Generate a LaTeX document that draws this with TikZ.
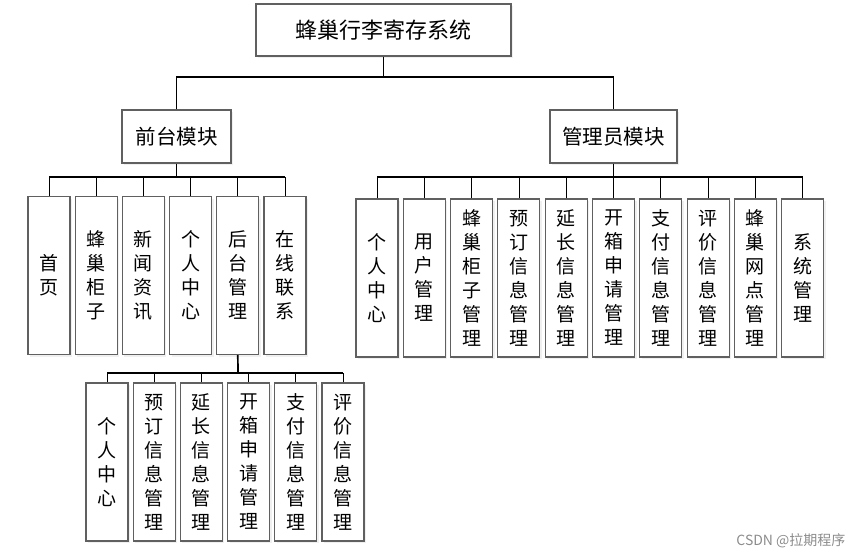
\documentclass[tikz,border=0pt]{standalone}
\usepackage{fontspec}
\newfontfamily\cjk{Noto Sans CJK SC}
\usetikzlibrary{shadows}

\begin{document}
\begin{tikzpicture}[x=1pt, y=-1pt,
    box/.style={draw=gray!75!black, line width=1.1pt, fill=white, inner sep=0pt, align=center,
        drop shadow={opacity=0.12, shadow xshift=2pt, shadow yshift=-2pt}},
    leaf/.style={box, minimum width=42pt, minimum height=158pt, font={\cjk\fontsize{19}{24}\selectfont}},
    conn/.style={line width=1.7pt},
    bar/.style={line width=1.1pt},
    twig/.style={line width=0.8pt}]
    \useasboundingbox (0,0) rectangle (864,558);

    % Raiz y modulos
    \node[box, minimum width=255pt, minimum height=52pt, font={\cjk\fontsize{22}{22}\selectfont}] (root) at (383.5,30) {蜂巢行李寄存系统};
    \node[box, minimum width=109pt, minimum height=53pt, font={\cjk\fontsize{20.5}{20.5}\selectfont}] (front) at (176.5,136.5) {前台模块};
    \node[box, minimum width=127pt, minimum height=53pt, font={\cjk\fontsize{20.5}{20.5}\selectfont}] (admin) at (613.5,136.5) {管理员模块};

    \coordinate (rootbar) at (383.5,77);
    \draw[conn] (root.south) -- (rootbar);
    \draw[conn] (front.north) |- (rootbar) -| (admin.north);

    % Hijos del modulo de front
    \foreach \txt [count=\i] in {首\\页, 蜂\\巢\\柜\\子, 新\\闻\\资\\讯, 个\\人\\中\\心, 后\\台\\管\\理, 在\\线\\联\\系}
        \node[leaf] (f\i) at ({49+47.2*(\i-1)},275.5) {\txt};

    \coordinate (frontbar) at (176.5,177);
    \draw[conn] (front.south) -- (frontbar);
    \draw[bar] (f1.north |- frontbar) -- (f6.north |- frontbar);
    \foreach \i in {1,...,6}
        \draw[twig] (f\i.north) -- (f\i.north |- frontbar);

    % Hijos del modulo de admin
    \foreach \txt [count=\i] in {个\\人\\中\\心, 用\\户\\管\\理, 蜂\\巢\\柜\\子\\管\\理, 预\\订\\信\\息\\管\\理, 延\\长\\信\\息\\管\\理,
        开\\箱\\申\\请\\管\\理, 支\\付\\信\\息\\管\\理, 评\\价\\信\\息\\管\\理, 蜂\\巢\\网\\点\\管\\理, 系\\统\\管\\理}
        \node[leaf] (a\i) at ({377+47.3*(\i-1)},278) {\txt};

    \coordinate (adminbar) at (613.5,177);
    \draw[conn] (admin.south) -- (adminbar);
    \draw[bar] (a1.north |- adminbar) -- (a10.north |- adminbar);
    \foreach \i in {1,...,10}
        \draw[twig] (a\i.north) -- (a\i.north |- adminbar);

    % Hijos de la gestion de fondo
    \foreach \txt [count=\i] in {个\\人\\中\\心, 预\\订\\信\\息\\管\\理, 延\\长\\信\\息\\管\\理, 开\\箱\\申\\请\\管\\理, 支\\付\\信\\息\\管\\理, 评\\价\\信\\息\\管\\理}
        \node[leaf] (b\i) at ({107+47.2*(\i-1)},462) {\txt};

    \coordinate (backbar) at (238,373);
    \draw[conn] (f5.south) -- (backbar);
    \draw[bar] (b1.north |- backbar) -- (b6.north |- backbar);
    \foreach \i in {1,...,6}
        \draw[twig] (b\i.north) -- (b\i.north |- backbar);

    % Marca de agua
    \node[anchor=east, text=gray!90, font={\cjk\fontsize{14}{14}\selectfont}] (mark) at (849,541) {CSDN @拉期程序};
\end{tikzpicture}
\end{document}
